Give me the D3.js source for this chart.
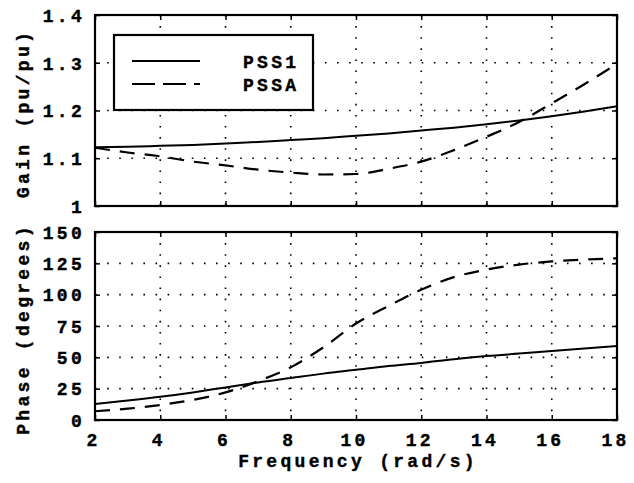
<!DOCTYPE html>
<html>
<head>
<meta charset="utf-8">
<script src="https://cdn.jsdelivr.net/npm/d3@7"></script>
<style>
  body { margin: 0; background: #fff; }
  svg text { font-family: "Liberation Mono", "DejaVu Sans Mono", monospace; font-weight: bold; fill: #000; stroke: #000; stroke-width: 0.4; }
</style>
</head>
<body>
<svg id="chart"></svg>
<script>
// frequencies (rad/s)
const freq = [2, 3, 4, 5, 6, 7, 8, 9, 10, 11, 12, 13, 14, 15, 16, 17, 18];
// gain (pu/pu)
const gainPSS1 = [1.123, 1.124, 1.126, 1.128, 1.131, 1.134, 1.138, 1.142, 1.147, 1.152, 1.158, 1.164, 1.171, 1.179, 1.188, 1.198, 1.209];
const gainPSSA = [1.122, 1.112, 1.104, 1.093, 1.085, 1.076, 1.070, 1.066, 1.067, 1.078, 1.093, 1.117, 1.145, 1.176, 1.215, 1.255, 1.298];
// phase (degrees)
const phasePSS1 = [12.8, 15.5, 18.5, 22, 26, 30, 33.5, 37, 40, 43, 45.5, 48.5, 51, 53, 55, 57, 59];
const phasePSSA = [7, 9, 12, 16, 22, 31, 42, 58, 77, 91, 104, 114, 120, 124, 126.5, 128, 129];

const xTicks = [2, 4, 6, 8, 10, 12, 14, 16, 18];
const gainTicks = [1, 1.1, 1.2, 1.3, 1.4];
const phaseTicks = [0, 25, 50, 75, 100, 125, 150];
const seriesNames = ["PSS1", "PSSA"];

const width = 634, height = 483;
const svg = d3.select("#chart").attr("width", width).attr("height", height);

const left = 95, right = 617;
const x = d3.scaleLinear().domain([2, 18]).range([left, right]);

const panels = [
  { top: 15, bottom: 206, domain: [1, 1.4], ticks: gainTicks, fmt: d => d === 1 ? "1" : d3.format(".1f")(d),
    a: gainPSS1, b: gainPSSA, label: "Gain (pu/pu)", showX: false },
  { top: 232, bottom: 420, domain: [0, 150], ticks: phaseTicks, fmt: d => d,
    a: phasePSS1, b: phasePSSA, label: "Phase (degrees)", showX: true }
];

const fontSize = 18, spacing = 3.3;

panels.forEach(p => {
  const y = d3.scaleLinear().domain(p.domain).range([p.bottom, p.top]);
  const g = svg.append("g");

  // dotted grid
  g.selectAll(".vgrid")
    .data(xTicks.slice(1, -1))
    .join("line")
    .attr("x1", d => x(d)).attr("x2", d => x(d))
    .attr("y1", p.top).attr("y2", p.bottom)
    .attr("stroke", "#000").attr("stroke-width", 1.6)
    .attr("stroke-dasharray", "1.6,9.5");
  g.selectAll(".hgrid")
    .data(p.ticks.slice(1, -1))
    .join("line")
    .attr("x1", left).attr("x2", right)
    .attr("y1", d => y(d)).attr("y2", d => y(d))
    .attr("stroke", "#000").attr("stroke-width", 1.6)
    .attr("stroke-dasharray", "1.6,10.5");

  // axes with inward ticks
  const yAxis = d3.axisLeft(y).tickValues(p.ticks).tickFormat(p.fmt).tickSize(-5).tickPadding(10);
  const yg = g.append("g").attr("transform", `translate(${left},0)`).call(yAxis);
  yg.select(".domain").remove();
  yg.selectAll("text").attr("font-size", fontSize).attr("letter-spacing", spacing).attr("dy", "0.35em");
  yg.selectAll("line").attr("stroke-width", 1.5);

  const yr = g.append("g").attr("transform", `translate(${right},0)`)
    .call(d3.axisRight(y).tickValues(p.ticks).tickSize(-5).tickFormat(""));
  yr.select(".domain").remove();
  yr.selectAll("line").attr("stroke-width", 1.5);

  const xAxis = d3.axisBottom(x).tickValues(xTicks).tickSize(-5).tickPadding(13);
  const xg = g.append("g").attr("transform", `translate(0,${p.bottom})`).call(xAxis);
  xg.select(".domain").remove();
  xg.selectAll("line").attr("stroke-width", 1.5);
  if (p.showX) {
    xg.selectAll("text").attr("font-size", fontSize).attr("letter-spacing", spacing).attr("dx", -2);
  } else {
    xg.selectAll("text").remove();
  }
  const xt = g.append("g").attr("transform", `translate(0,${p.top})`)
    .call(d3.axisTop(x).tickValues(xTicks).tickSize(-5).tickFormat(""));
  xt.select(".domain").remove();
  xt.selectAll("line").attr("stroke-width", 1.5);

  // frame
  g.append("rect")
    .attr("x", left).attr("y", p.top)
    .attr("width", right - left).attr("height", p.bottom - p.top)
    .attr("fill", "none").attr("stroke", "#000").attr("stroke-width", 2.2);

  const line = vals => d3.line()
    .x((d, i) => x(freq[i]))
    .y(d => y(d))
    .curve(d3.curveMonotoneX)(vals);

  g.append("path").attr("d", line(p.a))
    .attr("fill", "none").attr("stroke", "#000").attr("stroke-width", 2);
  g.append("path").attr("d", line(p.b))
    .attr("fill", "none").attr("stroke", "#000").attr("stroke-width", 2.2)
    .attr("stroke-dasharray", "15,10");

  // y label
  g.append("text")
    .attr("transform", `translate(29,${(p.top + p.bottom) / 2 + 3}) rotate(-90)`)
    .attr("text-anchor", "middle")
    .attr("font-size", fontSize).attr("letter-spacing", spacing)
    .text(p.label);
});

// x label
svg.append("text")
  .attr("x", (left + right) / 2 + 2).attr("y", 467)
  .attr("text-anchor", "middle")
  .attr("font-size", fontSize).attr("letter-spacing", spacing)
  .text("Frequency (rad/s)");

// legend
const legend = svg.append("g");
legend.append("rect")
  .attr("x", 114).attr("y", 35).attr("width", 199).attr("height", 75)
  .attr("fill", "#fff").attr("stroke", "#000").attr("stroke-width", 2.2);
const legendDash = ["none", "23,8"];
seriesNames.forEach((name, i) => {
  const ly = 61 + i * 23;
  legend.append("line")
    .attr("x1", 132).attr("x2", 200).attr("y1", ly).attr("y2", ly)
    .attr("stroke", "#000").attr("stroke-width", 2)
    .attr("stroke-dasharray", legendDash[i]);
  legend.append("text")
    .attr("x", 243).attr("y", ly + 7)
    .attr("font-size", fontSize).attr("letter-spacing", spacing)
    .text(name);
});
</script>
</body>
</html>
